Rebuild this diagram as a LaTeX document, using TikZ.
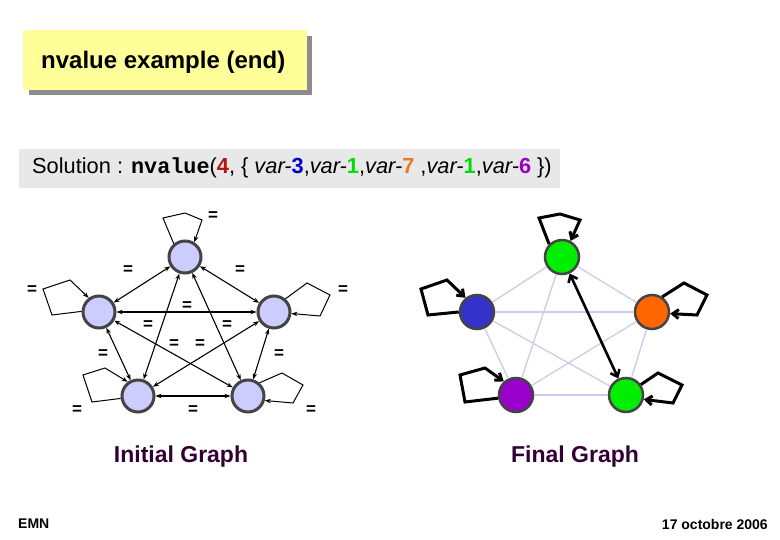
\documentclass[tikz,border=0pt]{standalone}
\usepackage{fontspec}
\setmainfont{Liberation Sans}
\setmonofont{Liberation Mono}
\usetikzlibrary{arrows.meta}
\definecolor{titleyellow}{HTML}{FFFF99}
\definecolor{shadowgray}{HTML}{8C8C8C}
\definecolor{solgray}{HTML}{E8E8E8}
\definecolor{lnode}{HTML}{CCCCFF}
\definecolor{ledge}{HTML}{444444}
\definecolor{fgreen}{HTML}{00EE00}
\definecolor{fblue}{HTML}{3333CC}
\definecolor{forange}{HTML}{FF6600}
\definecolor{fpurple}{HTML}{9900CC}
\definecolor{lavedge}{HTML}{CCCCE8}
\definecolor{labpurple}{HTML}{330033}
\definecolor{cred}{HTML}{BB1111}
\definecolor{cblue}{HTML}{0000CC}
\definecolor{cgreen}{HTML}{00DD00}
\definecolor{corange}{HTML}{EE7722}
\definecolor{cpurple}{HTML}{9900CC}
\tikzset{
  lnodestyle/.style={circle,draw=ledge,line width=3pt,fill=lnode,minimum size=32pt,inner sep=0pt},
  fnodestyle/.style={circle,draw=ledge,line width=2.5pt,minimum size=34pt,inner sep=0pt},
  ledgestyle/.style={draw=black,line width=1.1pt,{Stealth[length=6pt,width=4.5pt]}-{Stealth[length=6pt,width=4.5pt]}},
  lloopstyle/.style={draw=black,line width=1pt,line join=miter,-{Stealth[length=6pt,width=4.5pt]}},
  fedgestyle/.style={draw=lavedge,line width=1.3pt},
  floopstyle/.style={draw=black,line width=3pt,line join=miter,-{Straight Barb[length=6pt,width=9pt,line width=3pt]}},
  eqlab/.style={font=\bfseries\fontsize{17}{17}\selectfont,inner sep=0pt},
  glab/.style={font=\bfseries\fontsize{23}{23}\selectfont,text=labpurple,inner sep=0pt},
  footlab/.style={font=\bfseries\fontsize{14}{14}\selectfont,inner sep=0pt},
}
\begin{document}
\begin{tikzpicture}[x=1pt,y=-1pt]
\useasboundingbox (0,0) rectangle (780,540);
\fill[white] (0,0) rectangle (780,540);
% title
\fill[shadowgray] (29,36) rectangle (312,95);
\fill[titleyellow] (23,30) rectangle (307,90);
\node[anchor=west,inner sep=0pt,font=\bfseries\fontsize{24}{24}\selectfont] (title) at (41,62) {nvalue example (end)};
% solution
\fill[solgray] (19,149) rectangle (560,188);
\node[anchor=west,inner sep=0pt,font=\fontsize{21.8}{22}\selectfont] (sol) at (32,168)
 {Solution : {\ttfamily\bfseries nvalue}(\textbf{\color{cred}4}, \{ \textit{var-}\textbf{\color{cblue}3},\textit{var-}\textbf{\color{cgreen}1},\textit{var-}\textbf{\color{corange}7} ,\textit{var-}\textbf{\color{cgreen}1},\textit{var-}\textbf{\color{cpurple}6} \})};
% ---------- Initial graph ----------
\node[lnodestyle] (lt) at (185,257) {};
\node[lnodestyle] (ll) at (99,312) {};
\node[lnodestyle] (lr) at (274,312) {};
\node[lnodestyle] (lbl) at (138,396) {};
\node[lnodestyle] (lbr) at (248,396) {};
\draw[ledgestyle] (lt) -- (ll);
\draw[ledgestyle] (lt) -- (lr);
\draw[ledgestyle] (lt) -- (lbl);
\draw[ledgestyle] (lt) -- (lbr);
\draw[ledgestyle] (ll) -- (lr);
\draw[ledgestyle] (ll) -- (lbl);
\draw[ledgestyle] (ll) -- (lbr);
\draw[ledgestyle] (lr) -- (lbl);
\draw[ledgestyle] (lr) -- (lbr);
\draw[ledgestyle] (lbl) -- (lbr);
\draw[lloopstyle] (lt.130) -- (163,218) -- (185,213) -- (202,220) -- (lt.58);
\draw[lloopstyle] (ll.178) -- (52,315) -- (43,289) -- (70,280) -- (ll.126);
\draw[lloopstyle] (lr.49) -- (307,283) -- (330,295) -- (320,316) -- (lr.-5);
\draw[lloopstyle] (lbl.188) -- (92,402) -- (83,375) -- (105,368) -- (lbl.126);
\draw[lloopstyle] (lbr.49) -- (282,373) -- (303,385) -- (293,403) -- (lbr.-15);
\node[eqlab] (e1) at (213,216) {=};
\node[eqlab] (e2) at (128,270) {=};
\node[eqlab] (e3) at (240,270) {=};
\node[eqlab] (e4) at (32,290) {=};
\node[eqlab] (e5) at (343,290) {=};
\node[eqlab] (e6) at (187,306) {=};
\node[eqlab] (e7) at (148,325) {=};
\node[eqlab] (e8) at (227,325) {=};
\node[eqlab] (e9) at (174,344) {=};
\node[eqlab] (e10) at (200,344) {=};
\node[eqlab] (e11) at (103,354) {=};
\node[eqlab] (e12) at (279,354) {=};
\node[eqlab] (e13) at (77,410) {=};
\node[eqlab] (e14) at (193,410) {=};
\node[eqlab] (e15) at (311,410) {=};
\node[glab] (lg) at (181,457) {Initial Graph};
% ---------- Final graph ----------
\node[fnodestyle,fill=fgreen] (ft) at (562,257) {};
\node[fnodestyle,fill=fblue] (fl) at (477,312) {};
\node[fnodestyle,fill=forange] (fr) at (652,312) {};
\node[fnodestyle,fill=fpurple] (fbl) at (516,395) {};
\node[fnodestyle,fill=fgreen] (fbr) at (626,395) {};
\draw[fedgestyle] (ft) -- (fl);
\draw[fedgestyle] (ft) -- (fr);
\draw[fedgestyle] (ft) -- (fbl);
\draw[fedgestyle] (fl) -- (fr);
\draw[fedgestyle] (fl) -- (fbl);
\draw[fedgestyle] (fl) -- (fbr);
\draw[fedgestyle] (fr) -- (fbl);
\draw[fedgestyle] (fr) -- (fbr);
\draw[fedgestyle] (fbl) -- (fbr);
\draw[draw=black,line width=2.6pt,{Straight Barb[length=6pt,width=10pt,line width=2.6pt]}-{Straight Barb[length=6pt,width=10pt,line width=2.6pt]}] (ft) -- (fbr);
\draw[floopstyle] (ft.135) -- (539,218) -- (560,214) -- (580,220) -- (ft.62);
\draw[floopstyle] (fl.180) -- (428,315) -- (421,289) -- (447,280) -- (fl.129);
\draw[floopstyle] (fr.56) -- (684,283) -- (707,295) -- (697,315) -- (fr.-5);
\draw[floopstyle] (fbl.190) -- (465,402) -- (460,375) -- (485,368) -- (fbl.132);
\draw[floopstyle] (fbr.35) -- (658,373) -- (682,385) -- (673,403) -- (fbr.-14);
\node[glab] (fg) at (575,457) {Final Graph};
% footer
\node[footlab,anchor=west] (emn) at (18,524) {EMN};
\node[footlab,anchor=east] (date) at (768,524) {17 octobre 2006};
\end{tikzpicture}
\end{document}
